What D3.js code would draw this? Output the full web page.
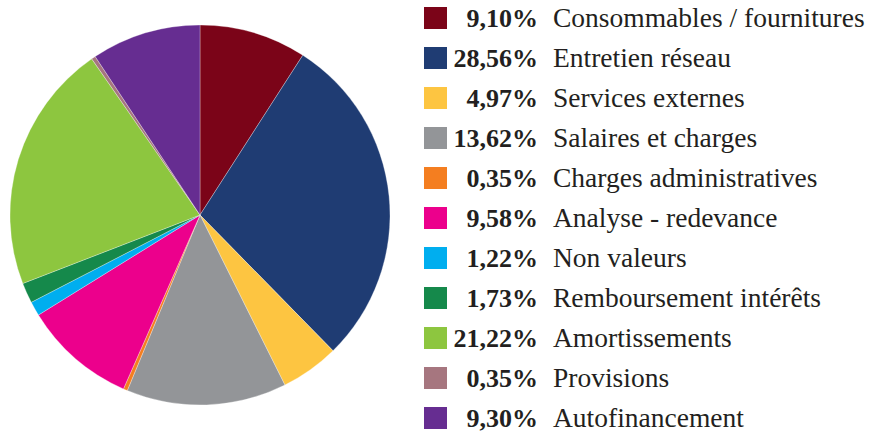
<!DOCTYPE html>
<html>
<head>
<meta charset="utf-8">
<script src="https://cdn.jsdelivr.net/npm/d3@7"></script>
<style>
  body { margin: 0; background: #fff; }
  svg { display: block; }
</style>
</head>
<body>
<svg id="chart" width="880" height="433"></svg>
<script>
// slice data, clockwise from 12 o'clock
const labels = ['Consommables / fournitures', 'Entretien réseau', 'Services externes',
  'Salaires et charges', 'Charges administratives', 'Analyse - redevance', 'Non valeurs',
  'Remboursement intérêts', 'Amortissements', 'Provisions', 'Autofinancement'];
const values = [9.10, 28.56, 4.97, 13.62, 0.35, 9.58, 1.22, 1.73, 21.22, 0.35, 9.30];
const colors = ['#7b0418', '#1f3c73', '#fdc541', '#939598', '#f47e20', '#ec008c',
  '#00aeef', '#15894b', '#8dc63f', '#a6767f', '#662d91'];

const data = labels.map((d, i) => ({ label: d, value: values[i], color: colors[i] }));

const svg = d3.select('#chart');

// pie
const cx = 200, cy = 215, radius = 190;
const pie = d3.pie().value(d => d.value).sort(null);
const arc = d3.arc().innerRadius(0).outerRadius(radius);

svg.append('g')
  .attr('transform', `translate(${cx},${cy})`)
  .selectAll('path')
  .data(pie(data))
  .join('path')
  .attr('d', arc)
  .attr('fill', d => d.data.color)
  .attr('stroke', '#fff')
  .attr('stroke-width', 0.3);

// legend
const fmt = v => d3.format('.2f')(v).replace('.', ',') + '%';
const rowY = d3.scaleBand().domain(d3.range(data.length)).range([-2, 438]);
const serif = '"Liberation Serif"';

const rows = svg.append('g').selectAll('g')
  .data(data)
  .join('g')
  .attr('transform', (d, i) => `translate(0,${rowY(i) + rowY.bandwidth() / 2})`);

rows.append('rect')
  .attr('x', 424)
  .attr('y', -11)
  .attr('width', 23)
  .attr('height', 22)
  .attr('fill', d => d.color);

rows.append('text')
  .attr('x', 538)
  .attr('y', 0)
  .attr('dy', '0.33em')
  .attr('text-anchor', 'end')
  .style('font-family', serif)
  .style('font-weight', 'bold')
  .style('font-size', '26px')
  .style('fill', '#231f20')
  .text(d => fmt(d.value));

rows.append('text')
  .attr('x', 553)
  .attr('y', 0)
  .attr('dy', '0.33em')
  .style('font-family', serif)
  .style('font-size', '27.5px')
  .style('fill', '#231f20')
  .text(d => d.label);
</script>
</body>
</html>
